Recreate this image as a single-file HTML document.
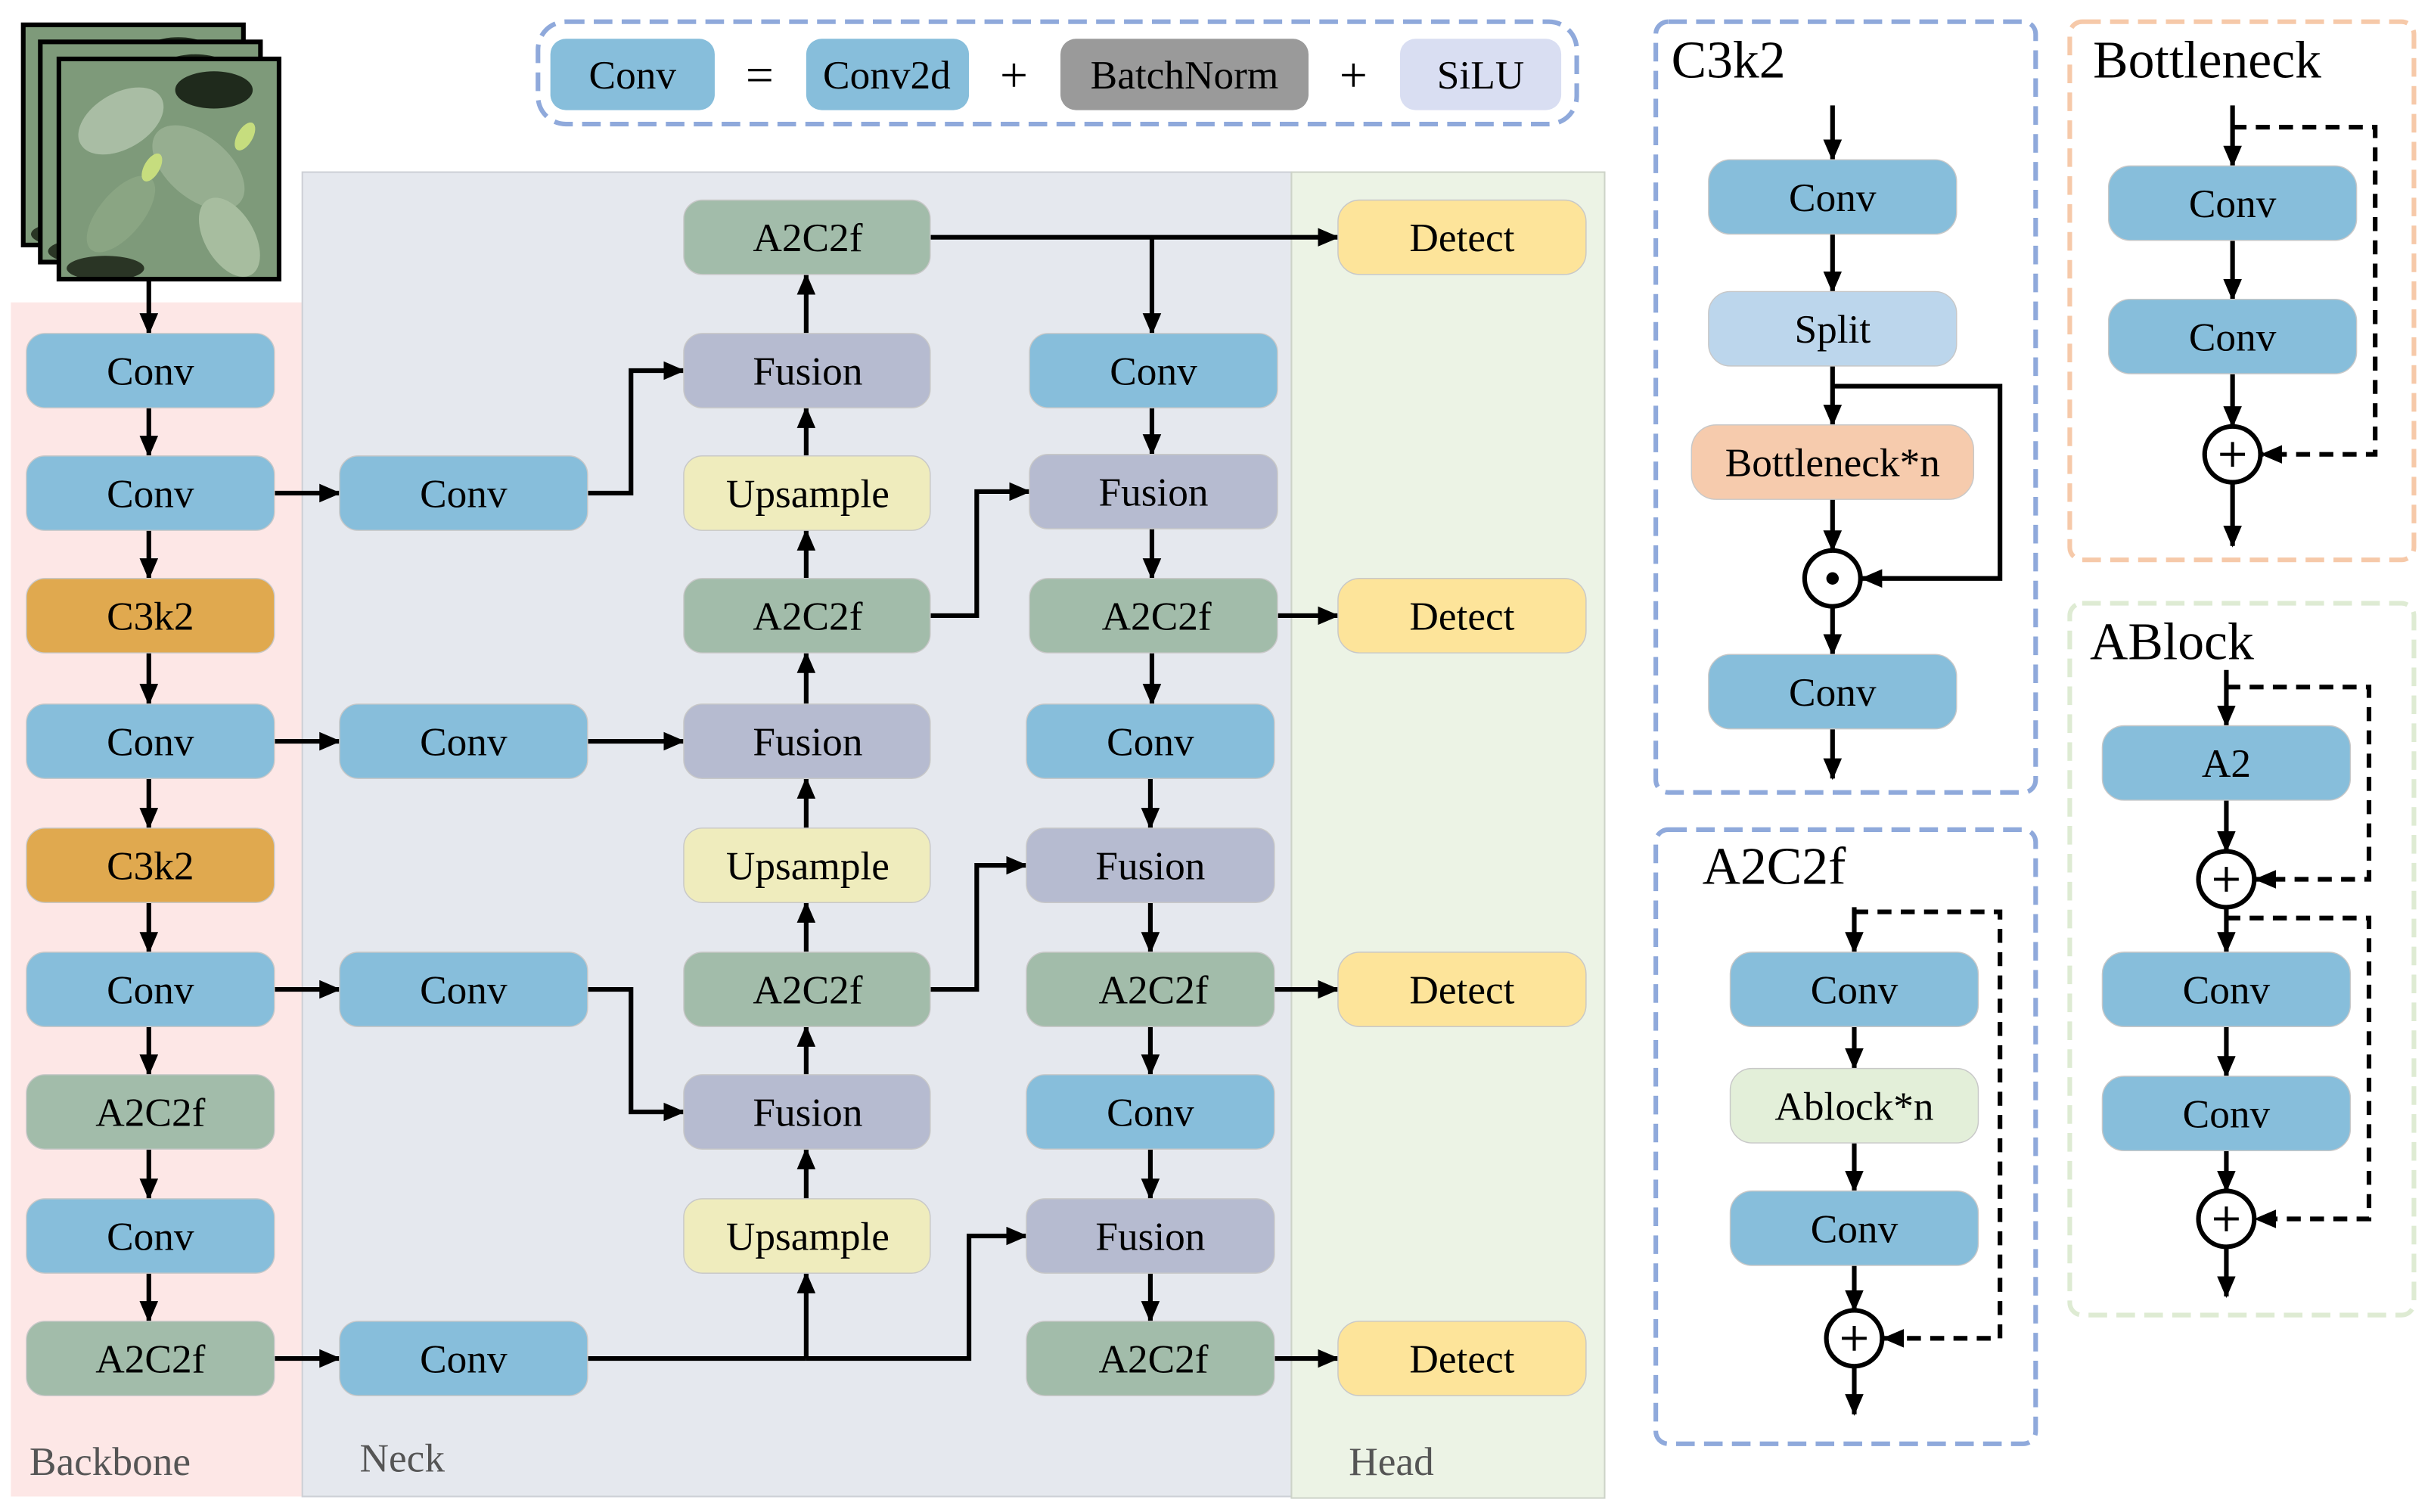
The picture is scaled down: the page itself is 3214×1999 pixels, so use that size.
<!DOCTYPE html>
<html><head><meta charset="utf-8"><style>html,body{margin:0;padding:0;background:#fff}svg{display:block}svg text{font-family:"Liberation Serif","Times New Roman",serif}</style></head>
<body>
<svg xmlns="http://www.w3.org/2000/svg" width="3214" height="1999" viewBox="0 0 1568 975" preserveAspectRatio="none" style="font-family:'Liberation Serif',serif">
<defs>
<marker id="a" markerUnits="userSpaceOnUse" markerWidth="14" markerHeight="12" refX="13" refY="6" orient="auto"><path d="M0,0 L14,6 L0,12 z" fill="#000" stroke="none"/></marker>
<g id="leaf" stroke="none">
<rect width="142" height="142" fill="#7e9a7a"/>
<ellipse cx="40" cy="40" rx="30" ry="18" fill="#a9bda4" transform="rotate(-30 40 40)"/>
<ellipse cx="100" cy="20" rx="25" ry="12" fill="#1f2a1c"/>
<ellipse cx="90" cy="70" rx="35" ry="20" fill="#96ae90" transform="rotate(40 90 70)"/>
<ellipse cx="40" cy="100" rx="30" ry="14" fill="#8aa583" transform="rotate(-50 40 100)"/>
<ellipse cx="110" cy="115" rx="28" ry="16" fill="#a7bd9f" transform="rotate(60 110 115)"/>
<ellipse cx="60" cy="70" rx="10" ry="5" fill="#c6dd7e" transform="rotate(-60 60 70)"/>
<ellipse cx="120" cy="50" rx="10" ry="5" fill="#c6dd7e" transform="rotate(-60 120 50)"/>
<ellipse cx="30" cy="135" rx="25" ry="8" fill="#2a3525"/>
</g>
</defs>
<!-- images -->
<use href="#leaf" x="15" y="16"/><rect x="15" y="16" width="142" height="142" fill="none" stroke="#000" stroke-width="3"/>
<use href="#leaf" x="26" y="27"/><rect x="26" y="27" width="142" height="142" fill="none" stroke="#000" stroke-width="3"/>
<use href="#leaf" x="38" y="38"/><rect x="38" y="38" width="142" height="142" fill="none" stroke="#000" stroke-width="3"/>
<!-- legend -->
<rect x="347" y="14" width="670" height="66" rx="18" fill="none" stroke="#8fa9db" stroke-width="3" stroke-dasharray="12,6"/>
<g font-size="26" text-anchor="middle">
<rect x="355" y="25" width="106" height="46" rx="10" fill="#87bedb"/><text x="408" y="57">Conv</text>
<text x="490" y="59" font-size="32">=</text>
<rect x="520" y="25" width="105" height="46" rx="10" fill="#87bedb"/><text x="572" y="57">Conv2d</text>
<text x="654" y="59" font-size="32">+</text>
<rect x="684" y="25" width="160" height="46" rx="10" fill="#9a9a9a"/><text x="764" y="57">BatchNorm</text>
<text x="873" y="59" font-size="32">+</text>
<rect x="903" y="25" width="104" height="46" rx="10" fill="#d9def2"/><text x="955" y="57">SiLU</text>
</g>
<!-- bgs -->
<rect x="7" y="195" width="188" height="770" fill="#fde7e6"/>
<rect x="195" y="111" width="638" height="854" fill="#e5e8ee" stroke="#cdd0d6" stroke-width="1"/>
<rect x="833" y="111" width="202" height="855" fill="#ecf3e5" stroke="#cdd3c8" stroke-width="1"/>
<g font-size="26" fill="#555"><text x="19" y="951">Backbone</text><text x="232" y="949">Neck</text><text x="870" y="951">Head</text></g>
<!-- connectors -->
<g stroke="#000" stroke-width="3" fill="none" marker-end="url(#a)">
<line x1="96" y1="181" x2="96" y2="215"/>
<line x1="96" y1="263" x2="96" y2="294"/>
<line x1="96" y1="342" x2="96" y2="373"/>
<line x1="96" y1="421" x2="96" y2="454"/>
<line x1="96" y1="502" x2="96" y2="534"/>
<line x1="96" y1="582" x2="96" y2="614"/>
<line x1="96" y1="662" x2="96" y2="693"/>
<line x1="96" y1="741" x2="96" y2="773"/>
<line x1="96" y1="821" x2="96" y2="852"/>
<line x1="177" y1="318" x2="219" y2="318"/>
<line x1="177" y1="478" x2="219" y2="478"/>
<line x1="177" y1="638" x2="219" y2="638"/>
<line x1="177" y1="876" x2="219" y2="876"/>
<polyline points="379,318 407,318 407,239 441,239"/>
<line x1="379" y1="478" x2="441" y2="478"/>
<polyline points="379,638 407,638 407,717 441,717"/>
<line x1="379" y1="876" x2="520" y2="876" marker-end="none"/>
<line x1="520" y1="876" x2="520" y2="821"/>
<polyline points="520,876 625,876 625,797 662,797"/>
<line x1="520" y1="773" x2="520" y2="741"/>
<line x1="520" y1="693" x2="520" y2="662"/>
<line x1="520" y1="614" x2="520" y2="582"/>
<line x1="520" y1="534" x2="520" y2="502"/>
<line x1="520" y1="454" x2="520" y2="421"/>
<line x1="520" y1="373" x2="520" y2="342"/>
<line x1="520" y1="294" x2="520" y2="263"/>
<line x1="520" y1="215" x2="520" y2="177"/>
<line x1="600" y1="153" x2="863" y2="153"/>
<line x1="743" y1="153" x2="743" y2="215"/>
<polyline points="600,397 630,397 630,317 664,317"/>
<polyline points="600,638 630,638 630,558 662,558"/>
<line x1="743" y1="263" x2="743" y2="293"/>
<line x1="743" y1="341" x2="743" y2="373"/>
<line x1="743" y1="421" x2="743" y2="454"/>
<line x1="742" y1="502" x2="742" y2="534"/>
<line x1="742" y1="582" x2="742" y2="614"/>
<line x1="742" y1="662" x2="742" y2="693"/>
<line x1="742" y1="741" x2="742" y2="773"/>
<line x1="742" y1="821" x2="742" y2="852"/>
<line x1="824" y1="397" x2="863" y2="397"/>
<line x1="822" y1="638" x2="863" y2="638"/>
<line x1="822" y1="876" x2="863" y2="876"/>
</g>
<!-- boxes -->
<g stroke="#c8c8c8" stroke-width="0.7">
<rect x="17" y="215" width="160" height="48" rx="12" fill="#87bedb"/>
<rect x="17" y="294" width="160" height="48" rx="12" fill="#87bedb"/>
<rect x="17" y="373" width="160" height="48" rx="12" fill="#e0a94f"/>
<rect x="17" y="454" width="160" height="48" rx="12" fill="#87bedb"/>
<rect x="17" y="534" width="160" height="48" rx="12" fill="#e0a94f"/>
<rect x="17" y="614" width="160" height="48" rx="12" fill="#87bedb"/>
<rect x="17" y="693" width="160" height="48" rx="12" fill="#a2bcaa"/>
<rect x="17" y="773" width="160" height="48" rx="12" fill="#87bedb"/>
<rect x="17" y="852" width="160" height="48" rx="12" fill="#a2bcaa"/>
<rect x="219" y="294" width="160" height="48" rx="12" fill="#87bedb"/>
<rect x="219" y="454" width="160" height="48" rx="12" fill="#87bedb"/>
<rect x="219" y="614" width="160" height="48" rx="12" fill="#87bedb"/>
<rect x="219" y="852" width="160" height="48" rx="12" fill="#87bedb"/>
<rect x="441" y="129" width="159" height="48" rx="12" fill="#a2bcaa"/>
<rect x="441" y="215" width="159" height="48" rx="12" fill="#b6bbd0"/>
<rect x="441" y="294" width="159" height="48" rx="12" fill="#efecbd"/>
<rect x="441" y="373" width="159" height="48" rx="12" fill="#a2bcaa"/>
<rect x="441" y="454" width="159" height="48" rx="12" fill="#b6bbd0"/>
<rect x="441" y="534" width="159" height="48" rx="12" fill="#efecbd"/>
<rect x="441" y="614" width="159" height="48" rx="12" fill="#a2bcaa"/>
<rect x="441" y="693" width="159" height="48" rx="12" fill="#b6bbd0"/>
<rect x="441" y="773" width="159" height="48" rx="12" fill="#efecbd"/>
<rect x="664" y="215" width="160" height="48" rx="12" fill="#87bedb"/>
<rect x="664" y="293" width="160" height="48" rx="12" fill="#b6bbd0"/>
<rect x="664" y="373" width="160" height="48" rx="12" fill="#a2bcaa"/>
<rect x="662" y="454" width="160" height="48" rx="12" fill="#87bedb"/>
<rect x="662" y="534" width="160" height="48" rx="12" fill="#b6bbd0"/>
<rect x="662" y="614" width="160" height="48" rx="12" fill="#a2bcaa"/>
<rect x="662" y="693" width="160" height="48" rx="12" fill="#87bedb"/>
<rect x="662" y="773" width="160" height="48" rx="12" fill="#b6bbd0"/>
<rect x="662" y="852" width="160" height="48" rx="12" fill="#a2bcaa"/>
<rect x="863" y="129" width="160" height="48" rx="14" fill="#fde49a"/>
<rect x="863" y="373" width="160" height="48" rx="14" fill="#fde49a"/>
<rect x="863" y="614" width="160" height="48" rx="14" fill="#fde49a"/>
<rect x="863" y="852" width="160" height="48" rx="14" fill="#fde49a"/>
</g>
<g font-size="26" text-anchor="middle">
<text x="97" y="248">Conv</text><text x="97" y="327">Conv</text><text x="97" y="406">C3k2</text><text x="97" y="487">Conv</text><text x="97" y="567">C3k2</text><text x="97" y="647">Conv</text><text x="97" y="726">A2C2f</text><text x="97" y="806">Conv</text><text x="97" y="885">A2C2f</text>
<text x="299" y="327">Conv</text><text x="299" y="487">Conv</text><text x="299" y="647">Conv</text><text x="299" y="885">Conv</text>
<text x="521" y="162">A2C2f</text><text x="521" y="248">Fusion</text><text x="521" y="327">Upsample</text><text x="521" y="406">A2C2f</text><text x="521" y="487">Fusion</text><text x="521" y="567">Upsample</text><text x="521" y="647">A2C2f</text><text x="521" y="726">Fusion</text><text x="521" y="806">Upsample</text>
<text x="744" y="248">Conv</text><text x="744" y="326">Fusion</text><text x="746" y="406">A2C2f</text><text x="742" y="487">Conv</text><text x="742" y="567">Fusion</text><text x="744" y="647">A2C2f</text><text x="742" y="726">Conv</text><text x="742" y="806">Fusion</text><text x="744" y="885">A2C2f</text>
<text x="943" y="162">Detect</text><text x="943" y="406">Detect</text><text x="943" y="647">Detect</text><text x="943" y="885">Detect</text>
</g>
<!-- right panels -->
<g fill="none" stroke-width="3" stroke-dasharray="12,6">
<rect x="1068" y="14" width="245" height="497" rx="8" stroke="#8fa9db"/>
<rect x="1335" y="14" width="222" height="347" rx="8" stroke="#f6c9a9"/>
<rect x="1068" y="535" width="245" height="396" rx="8" stroke="#8fa9db"/>
<rect x="1335" y="389" width="222" height="459" rx="8" stroke="#deebd3"/>
</g>
<g font-size="34"><text x="1078" y="50">C3k2</text><text x="1350" y="50">Bottleneck</text><text x="1098" y="570">A2C2f</text><text x="1348" y="425">ABlock</text></g>
<g stroke="#000" stroke-width="3" fill="none">
<g marker-end="url(#a)">
<line x1="1182" y1="68" x2="1182" y2="103"/>
<line x1="1182" y1="151" x2="1182" y2="188"/>
<line x1="1182" y1="236" x2="1182" y2="274"/>
<polyline points="1182,249 1290,249 1290,373 1201,373"/>
<line x1="1182" y1="322" x2="1182" y2="355"/>
<line x1="1182" y1="391" x2="1182" y2="422"/>
<line x1="1182" y1="470" x2="1182" y2="502"/>
<line x1="1440" y1="68" x2="1440" y2="107"/>
<line x1="1440" y1="155" x2="1440" y2="193"/>
<line x1="1440" y1="241" x2="1440" y2="275"/>
<line x1="1440" y1="311" x2="1440" y2="352"/>
<polyline points="1440,82 1532,82 1532,293 1459,293" stroke-dasharray="9,6"/>
<line x1="1196" y1="585" x2="1196" y2="614"/>
<line x1="1196" y1="662" x2="1196" y2="689"/>
<line x1="1196" y1="737" x2="1196" y2="768"/>
<line x1="1196" y1="816" x2="1196" y2="845"/>
<line x1="1196" y1="881" x2="1196" y2="912"/>
<polyline points="1196,588 1290,588 1290,863 1215,863" stroke-dasharray="9,6"/>
<line x1="1436" y1="432" x2="1436" y2="468"/>
<line x1="1436" y1="516" x2="1436" y2="549"/>
<line x1="1436" y1="585" x2="1436" y2="614"/>
<line x1="1436" y1="662" x2="1436" y2="694"/>
<line x1="1436" y1="742" x2="1436" y2="768"/>
<line x1="1436" y1="804" x2="1436" y2="836"/>
<polyline points="1436,443 1528,443 1528,567 1455,567" stroke-dasharray="9,6"/>
<polyline points="1436,592 1528,592 1528,786 1455,786" stroke-dasharray="9,6"/>
</g>
<circle cx="1182" cy="373" r="18" fill="#fff"/>
<circle cx="1440" cy="293" r="18" fill="#fff"/>
<circle cx="1196" cy="863" r="18" fill="#fff"/>
<circle cx="1436" cy="567" r="18" fill="#fff"/>
<circle cx="1436" cy="786" r="18" fill="#fff"/>
<g stroke-width="2"><path d="M1432,293h16M1440,285v16M1188,863h16M1196,855v16M1428,567h16M1436,559v16M1428,786h16M1436,778v16"/></g>
</g>
<circle cx="1182" cy="373" r="4" fill="#000"/>
<g stroke="#c8c8c8" stroke-width="0.7">
<rect x="1102" y="103" width="160" height="48" rx="14" fill="#87bedb"/>
<rect x="1102" y="188" width="160" height="48" rx="14" fill="#bcd6ec"/>
<rect x="1091" y="274" width="182" height="48" rx="16" fill="#f6cbad"/>
<rect x="1102" y="422" width="160" height="48" rx="14" fill="#87bedb"/>
<rect x="1360" y="107" width="160" height="48" rx="14" fill="#87bedb"/>
<rect x="1360" y="193" width="160" height="48" rx="14" fill="#87bedb"/>
<rect x="1116" y="614" width="160" height="48" rx="14" fill="#87bedb"/>
<rect x="1116" y="689" width="160" height="48" rx="14" fill="#e3efd9"/>
<rect x="1116" y="768" width="160" height="48" rx="14" fill="#87bedb"/>
<rect x="1356" y="468" width="160" height="48" rx="14" fill="#87bedb"/>
<rect x="1356" y="614" width="160" height="48" rx="14" fill="#87bedb"/>
<rect x="1356" y="694" width="160" height="48" rx="14" fill="#87bedb"/>
</g>
<g font-size="26" text-anchor="middle">
<text x="1182" y="136">Conv</text><text x="1182" y="221">Split</text><text x="1182" y="307">Bottleneck*n</text><text x="1182" y="455">Conv</text>
<text x="1440" y="140">Conv</text><text x="1440" y="226">Conv</text>
<text x="1196" y="647">Conv</text><text x="1196" y="722">Ablock*n</text><text x="1196" y="801">Conv</text>
<text x="1436" y="501">A2</text><text x="1436" y="647">Conv</text><text x="1436" y="727">Conv</text>
</g>
</svg>
</body></html>
